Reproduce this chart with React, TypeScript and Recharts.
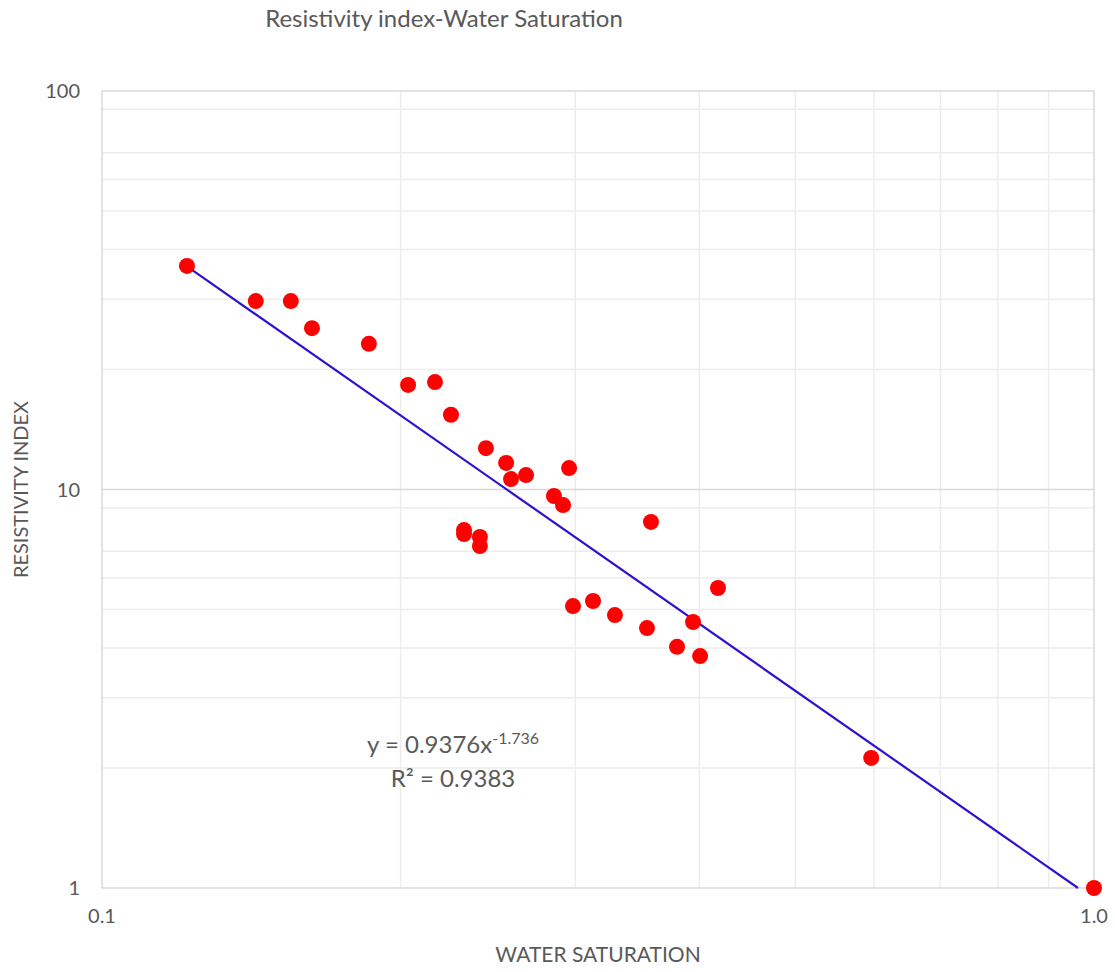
import {
  ScatterChart,
  Scatter,
  XAxis,
  YAxis,
  CartesianGrid,
  ReferenceLine,
} from "recharts";

// water saturation (fraction) vs resistivity index
const saturation = [
  0.1218, 0.1429, 0.155, 0.1628, 0.1858, 0.2035, 0.2166, 0.2248, 0.2438, 0.2555,
  0.2584, 0.2676, 0.2957, 0.2855, 0.2916, 0.2317, 0.2317, 0.2404, 0.2404, 0.3576,
  0.2984, 0.3126, 0.3289, 0.3543, 0.4178, 0.3943, 0.3799, 0.4008, 0.5962, 1.0,
];
const resistivityIndex = [
  36.4, 29.7, 29.7, 25.4, 23.2, 18.3, 18.6, 15.4, 12.7, 11.66,
  10.62, 10.87, 11.32, 9.63, 9.14, 7.91, 7.73, 7.6, 7.21, 8.29,
  5.1, 5.25, 4.84, 4.49, 5.66, 4.65, 4.03, 3.82, 2.12, 1.0,
];

// power trendline end points (y = 0.9376x^-1.736), ends where it meets the x axis
const trendX = [0.1218, 0.9636];
const trendY = [36.3, 1.0];

const xTicks = [0.1, 1];
const yTicks = [1, 10, 100];
const xMinor = [0.2, 0.3, 0.4, 0.5, 0.6, 0.7, 0.8, 0.9];
const yMinor = [2, 3, 4, 5, 6, 7, 8, 9, 20, 30, 40, 50, 60, 70, 80, 90];

const points = saturation.map((x, i) => ({ x, y: resistivityIndex[i] }));
const trend = trendX.map((x, i) => ({ x, y: trendY[i] }));

const FONT = "Lato, 'Open Sans', sans-serif";
const GREY = "#595959";

const Dot = (props: any) => <circle cx={props.cx} cy={props.cy} r={8} fill="#ff0000" />;

export default function App() {
  return (
    <div style={{ position: "absolute", left: 0, top: 0, width: 1115, height: 972, fontFamily: FONT }}>
      <div
        style={{
          position: "absolute",
          left: 0,
          width: 888,
          top: 3,
          textAlign: "center",
          fontSize: 24,
          color: GREY,
        }}
      >
        Resistivity index-Water Saturation
      </div>
      <ScatterChart width={1115} height={972} margin={{ top: 91, right: 21, bottom: 54, left: 0 }}>
        <CartesianGrid
          stroke="#ededed"
          strokeWidth={1.5}
          horizontalValues={yMinor}
          verticalValues={xMinor}
        />
        <ReferenceLine y={10} stroke="#d9d9d9" strokeWidth={1.5} />
        <ReferenceLine y={100} stroke="#d9d9d9" strokeWidth={1.5} />
        <ReferenceLine x={1} stroke="#d9d9d9" strokeWidth={1.5} />
        <XAxis
          type="number"
          dataKey="x"
          scale="log"
          domain={[0.1, 1]}
          ticks={xTicks}
          tickLine={false}
          tickSize={0}
          tickMargin={21}
          axisLine={{ stroke: "#d9d9d9", strokeWidth: 1.5 }}
          tick={{ fontSize: 20, fill: GREY, fontFamily: FONT }}
          tickFormatter={(v: number) => (v === 1 ? "1.0" : String(v))}
          height={30}
          label={{
            value: "WATER SATURATION",
            position: "insideBottom",
            offset: -44,
            fontSize: 21,
            fill: GREY,
            fontFamily: FONT,
          }}
        />
        <YAxis
          type="number"
          dataKey="y"
          scale="log"
          domain={[1, 100]}
          ticks={yTicks}
          tickLine={false}
          tickSize={0}
          tickMargin={22}
          width={102}
          axisLine={{ stroke: "#d9d9d9", strokeWidth: 1.5 }}
          tick={{ fontSize: 20, fill: GREY, fontFamily: FONT }}
          label={{
            value: "RESISTIVITY INDEX",
            angle: -90,
            position: "insideLeft",
            offset: 21,
            style: { textAnchor: "middle" },
            fontSize: 20,
            fill: GREY,
            fontFamily: FONT,
          }}
        />
        <Scatter
          data={trend}
          line={{ stroke: "#3010d0", strokeWidth: 2.2 }}
          shape={() => <g />}
          isAnimationActive={false}
        />
        <Scatter data={points} shape={Dot} isAnimationActive={false} />
      </ScatterChart>
      <div
        style={{
          position: "absolute",
          left: 298,
          width: 310,
          top: 721,
          textAlign: "center",
          fontSize: 24,
          color: GREY,
          lineHeight: "34px",
        }}
      >
        <div>
          y = 0.9376x<sup style={{ fontSize: 16 }}>-1.736</sup>
        </div>
        <div>R² = 0.9383</div>
      </div>
    </div>
  );
}
